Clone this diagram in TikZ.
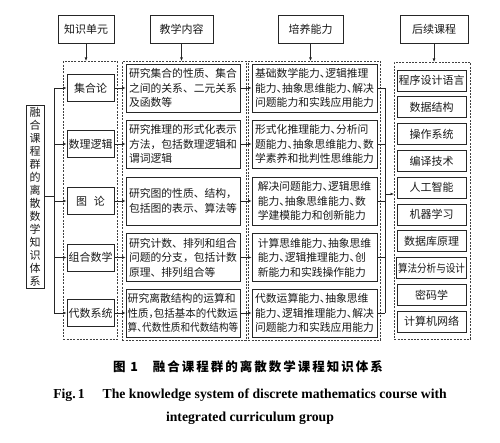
\documentclass[tikz,border=0pt]{standalone}
\usepackage{graphicx}
\usepackage{fontspec}
\setmainfont{Liberation Serif}
\newfontfamily\cjk{Noto Sans CJK SC}
\newfontfamily\cjkh[RawFeature=+halt]{Noto Sans CJK SC}
\usetikzlibrary{arrows.meta}
\newcommand{\sqz}[2]{\scalebox{#1}[1]{#2}}
\begin{document}
\begin{tikzpicture}[x=1pt,y=-1pt,
  ln/.style={draw=black!85, line width=0.6pt},
  box/.style={draw=black!85, line width=0.7pt, inner xsep=1.5pt, inner ysep=0pt, text=black!90},
  dbox/.style={draw=black!75, line width=0.6pt, dash pattern=on 2pt off 1.3pt, inner sep=0pt},
  arr/.style={ln, -{Latex[length=3.5pt,width=2.8pt]}},
  hdr/.style={box, minimum height=28pt, font=\cjk\fontsize{11}{13}\selectfont},
  unit/.style={box, minimum width=47pt, minimum height=27pt, font=\cjk\fontsize{11}{13}\selectfont},
  cont/.style={box, minimum width=114pt, minimum height=48pt, align=left, font=\cjk\fontsize{10.8}{14.5}\selectfont},
  abil/.style={box, minimum width=125pt, minimum height=48pt, align=left, font=\cjkh\fontsize{10.8}{14.5}\selectfont},
  crs/.style={box, minimum width=69pt, minimum height=21pt, font=\cjk\fontsize{11}{13}\selectfont}
]
\useasboundingbox (0,0) rectangle (500,443);

% headers
\node[hdr, minimum width=56pt] (h1) at (86,29) {知识单元};
\node[hdr, minimum width=63pt] (h2) at (181.5,29) {教学内容};
\node[hdr, minimum width=65pt] (h3) at (310.5,29) {培养能力};
\node[hdr, minimum width=68pt] (h4) at (434,29) {后续课程};

% dashed columns
\node[dbox, anchor=north west, minimum width=54pt, minimum height=278pt] (d1) at (63,61) {};
\node[dbox, anchor=north west, minimum width=124pt, minimum height=279pt] (d2) at (122,61) {};
\node[dbox, anchor=north west, minimum width=132pt, minimum height=279pt] (d3) at (248,61) {};
\node[dbox, anchor=north west, minimum width=76pt, minimum height=277pt] (d4) at (394,62) {};

\draw[arr] (h1.south) -- (h1.south |- d1.north);
\draw[arr] (h2.south) -- (h2.south |- d2.north);
\draw[arr] (h3.south) -- (h3.south |- d3.north);
\draw[arr] (h4.south) -- (h4.south |- d4.north);

% title
\node[box, minimum width=18pt, minimum height=183pt, inner sep=0pt, align=center,
  font=\cjk\fontsize{11}{13}\selectfont] (t) at (35,196.5)
  {融\\合\\课\\程\\群\\的\\离\\散\\数\\学\\知\\识\\体\\系};

% knowledge units
\node[unit] (u1) at (90.5,88) {集合论};
\node[unit] (u2) at (90.5,144) {数理逻辑};
\node[unit] (u3) at (90.5,201) {图\hspace{0.6em}论};
\node[unit] (u4) at (90.5,257.5) {组合数学};
\node[unit] (u5) at (90.5,313) {代数系统};

% contents
\node[cont] (c1) at (183,88) {研究集合的性质、集合\\之间的关系、二元关系\\及函数等};
\node[cont] (c2) at (183,144) {研究推理的形式化表示\\方法，包括数理逻辑和\\谓词逻辑};
\node[cont] (c3) at (183,201) {研究图的性质、结构，\\包括图的表示、算法等};
\node[cont] (c4) at (183,257.5) {研究计数、排列和组合\\问题的分支，包括计数\\原理、排列组合等};
\node[cont] (c5) at (183,313) {研究离散结构的运算和\\{\cjkh\sqz{0.97}{性质，包括基本的代数运}}\\{\cjkh\sqz{0.89}{算、代数性质和代数结构等}}};

% abilities
\node[abil] (a1) at (314.5,88) {基础数学能力、逻辑推理\\能力、抽象思维能力、解决\\问题能力和实践应用能力};
\node[abil] (a2) at (314.5,144) {形式化推理能力、分析问\\题能力、抽象思维能力、数\\学素养和批判性思维能力};
\node[abil] (a3) at (314.5,201) {解决问题能力、逻辑思维\\能力、抽象思维能力、数\\学建模能力和创新能力};
\node[abil] (a4) at (314.5,257.5) {计算思维能力、抽象思维\\能力、逻辑推理能力、创\\新能力和实践操作能力};
\node[abil] (a5) at (314.5,313) {代数运算能力、抽象思维\\能力、逻辑推理能力、解决\\问题能力和实践应用能力};

% courses
\node[crs] (k1) at (431.5,80.5) {程序设计语言};
\node[crs] (k2) at (431.5,107.3) {数据结构};
\node[crs] (k3) at (431.5,134.1) {操作系统};
\node[crs] (k4) at (431.5,160.9) {编译技术};
\node[crs] (k5) at (431.5,187.7) {人工智能};
\node[crs] (k6) at (431.5,214.5) {机器学习};
\node[crs] (k7) at (431.5,241.3) {数据库原理};
\node[crs] (k8) at (431.5,268.1) {\sqz{0.87}{算法分析与设计}};
\node[crs] (k9) at (431.5,294.9) {密码学};
\node[crs] (k10) at (431.5,321.7) {计算机网络};

% left trunk
\coordinate (tx) at (54,0);
\draw[ln] (t.east) -- (t.east -| tx);
\draw[ln] (tx |- u1.west) -- (tx |- u5.west);
\foreach \i in {1,...,5} {
  \draw[arr] (tx |- u\i.west) -- (u\i.west);
  \draw[arr] (u\i.east) -- (c\i.west);
  \draw[arr] (c\i.east) -- (a\i.west);
}

% right bracket
\coordinate (bx) at (385,0);
\coordinate (bm) at (385,194);
\foreach \i in {1,...,5} {
  \draw[ln] (a\i.east) -- (a\i.east -| bx);
}
\draw[ln] (bx |- a1.east) -- (bx |- a5.east);
\draw[arr] (bm) -- (bm -| d4.west);

% captions
\node[font=\cjk\bfseries\fontsize{12.5}{14}\selectfont\addfontfeature{LetterSpace=16}] (cap1) at (248,367)
  {图 1\hspace{1.2em}融合课程群的离散数学课程知识体系};
\node[font=\bfseries\fontsize{13.7}{16}\selectfont] (cap2) at (250,395)
  {Fig.\,1\hspace{1.3em}The knowledge system of discrete mathematics course with};
\node[font=\bfseries\fontsize{13.7}{16}\selectfont] (cap3) at (250,418)
  {integrated curriculum group};
\end{tikzpicture}
\end{document}
